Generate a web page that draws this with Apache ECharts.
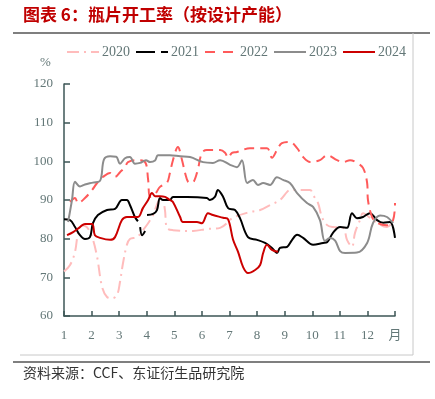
<!DOCTYPE html>
<html>
<head>
<meta charset="utf-8">
<script src="https://cdn.jsdelivr.net/npm/echarts@6/dist/echarts.min.js"></script>
<style>
html,body{margin:0;padding:0;background:#fff;}
#chart{width:435px;height:399px;}
</style>
</head>
<body>
<div id="chart"></div>
<script>
// ---- data (x = month position, y = capacity utilisation %) ----
const seriesNames = ['2020', '2021', '2022', '2023', '2024'];
const xTickLabels = ['1','2','3','4','5','6','7','8','9','10','11','12','月'];

const m2020 = [1.0,1.22,1.40,1.51,1.65,1.83,2.02,2.20,2.38,2.56,2.74,2.92,3.03,3.14,3.28,3.39,3.65,3.86,4.05,4.23,4.41,4.55,4.66,4.73,4.95,5.68,6.18,6.66,7.13,7.74,8.11,8.47,8.83,9.09,9.19,9.92,10.03,10.21,10.35,10.54,10.75,11.12,11.26,11.44,11.55,11.73,11.84,12.20,12.71,12.89];
const v2020 = [71.5,73.2,76.6,81.5,83.5,83.0,80.4,75.3,67.5,64.9,64.6,65.4,68.8,73.7,78.4,79.9,80.4,82.2,84.0,86.1,89.5,90.8,87.4,82.8,82.2,82.0,82.5,82.8,85.4,86.9,87.4,88.7,90.0,92.1,92.6,92.6,91.3,89.2,85.6,83.5,83.0,82.8,79.7,77.9,81.5,84.8,86.6,84.8,83.0,84.1];

const m2021 = [1.0,1.22,1.40,1.58,1.76,1.94,2.05,2.23,2.56,2.85,3.10,3.28,3.39,3.57,3.68,null,3.76,3.83,3.94,null,4.01,4.23,4.37,4.48,4.59,4.84,4.95,5.46,6.18,6.29,6.47,6.58,6.77,6.95,7.20,7.38,7.67,8.00,8.29,8.54,8.72,8.83,9.09,9.27,9.45,9.67,10.03,10.39,10.54,10.75,11.01,11.26,11.44,11.62,11.84,12.09,12.35,12.57,12.82,13.0];
const v2021 = [85.0,84.8,83.0,80.9,79.9,80.4,84.0,86.1,87.4,87.7,90.0,90.0,88.7,85.6,84.5,null,83.0,80.9,82.0,null,86.1,86.4,87.4,90.5,90.0,90.0,90.8,90.8,90.5,90.0,90.8,92.6,90.8,87.9,87.4,85.3,80.4,79.7,78.9,77.6,76.3,77.6,77.9,79.7,81.0,80.2,78.4,78.9,79.1,81.5,83.0,82.8,86.6,85.3,85.6,86.6,84.8,84.1,84.3,80.2];

const m2022 = [1.22,1.40,1.51,1.76,2.02,2.20,2.42,2.67,2.85,3.03,3.21,3.32,3.65,3.94,4.05,4.12,4.30,4.48,4.73,4.84,4.95,5.13,5.28,5.39,5.50,5.64,5.82,6.00,6.18,6.66,6.84,6.95,7.09,7.27,7.45,7.74,8.36,8.54,8.72,8.90,9.19,9.45,9.67,9.92,10.28,10.54,10.90,11.12,11.37,11.62,11.84,11.99,12.02,12.17,12.35,12.71,12.93,13.0];
const v2022 = [89.5,90.5,89.2,90.5,92.6,94.4,96.0,97.0,96.0,97.2,98.5,99.8,100.3,99.8,95.2,90.8,91.5,93.4,94.4,97.0,100.3,103.7,100.3,97.0,94.7,94.4,97.0,102.2,102.9,102.9,102.2,100.9,102.2,102.4,102.9,103.4,103.4,100.9,102.9,104.7,105.0,103.4,101.1,99.8,100.3,101.6,100.3,99.8,100.3,99.6,98.3,94.4,90.0,85.6,84.1,83.5,84.8,89.2];

const m2023 = [1.15,1.29,1.40,1.58,1.76,2.05,2.31,2.45,2.67,2.89,3.03,3.21,3.39,3.57,3.76,3.97,4.12,4.30,4.41,4.84,5.21,5.57,6.04,6.40,6.66,7.02,7.27,7.45,7.64,7.85,8.03,8.22,8.47,8.72,8.94,9.19,9.45,9.81,10.03,10.28,10.46,10.64,10.83,11.01,11.19,11.62,11.99,12.20,12.46,12.71,12.93];
const v2023 = [84.3,90.0,94.7,93.5,94.0,94.5,95.0,100.5,101.3,101.2,99.4,100.8,101.1,99.4,99.6,100.3,99.8,100.2,101.6,101.6,101.3,101.1,99.8,99.6,100.3,99.1,98.5,100.3,94.4,95.2,93.9,94.4,93.9,95.9,95.2,94.4,91.8,89.2,88.2,84.8,79.4,80.2,79.5,76.8,76.3,76.4,78.9,84.0,86.0,85.6,84.0];

const m2024 = [1.11,1.33,1.58,1.76,2.02,2.12,2.31,2.67,2.85,3.10,3.28,3.68,3.86,4.05,4.19,4.30,4.48,4.66,4.84,4.95,5.21,5.31,5.82,6.00,6.22,6.40,6.77,6.95,7.13,7.31,7.49,7.67,7.93,8.11,8.22,8.36,8.54,8.76];
const v2024 = [80.9,81.7,83.0,83.8,83.8,80.9,80.2,79.7,80.4,84.8,85.6,85.6,87.9,90.0,91.8,91.0,91.0,90.8,90.0,89.5,85.6,84.3,84.3,84.0,86.6,86.1,85.4,85.0,79.7,76.6,72.7,71.1,71.9,73.2,76.3,78.4,77.1,76.6];

function pairs(xs, ys) {
  return xs.map((x, i) => (x === null || ys[i] === null) ? [null, null] : [x, ys[i]]);
}

const textGray = '#637777';
const axisColor = '#3d5656';
const serif = '"Liberation Serif","Noto Sans CJK SC",serif';

const chart = echarts.init(document.getElementById('chart'), null, {renderer: 'canvas'});

const colors = ['#ffbcbc', '#000000', '#ff5a5a', '#8c8c8c', '#cc0000'];
const dashes = [[12,5,2,5], 'solid', [10,6], 'solid', 'solid'];
const datas = [pairs(m2020,v2020), pairs(m2021,v2021), pairs(m2022,v2022), pairs(m2023,v2023), pairs(m2024,v2024)];

chart.setOption({
  animation: false,
  backgroundColor: '#fff',
  grid: {left: 64, right: 40, top: 84, bottom: 83, containLabel: false},
  legend: {
    left: 61, top: 40,
    itemWidth: 32, itemHeight: 3, itemGap: 5,
    itemStyle: {color: 'rgba(0,0,0,0)', borderWidth: 0},
    textStyle: {color: textGray, fontFamily: serif, fontSize: 14, padding: [0,0,0,-2]},
    data: [
      {name: '2020'},
      {name: '2021', lineStyle: {type: [19,6,7,20]}},
      {name: '2022', lineStyle: {type: [10,8]}},
      {name: '2023'},
      {name: '2024'}
    ]
  },
  xAxis: {
    type: 'value', min: 1, max: 13, interval: 1,
    axisLine: {show: true, lineStyle: {color: axisColor, width: 1.5}},
    axisTick: {show: true, inside: true, length: 5, lineStyle: {color: axisColor, width: 1.5}},
    splitLine: {show: false},
    axisLabel: {
      color: textGray, fontFamily: serif, fontSize: 13, margin: 13,
      formatter: v => xTickLabels[Math.round(v) - 1]
    }
  },
  yAxis: {
    type: 'value', min: 60, max: 120, interval: 10,
    axisLine: {show: true, lineStyle: {color: axisColor, width: 1.5}},
    axisTick: {show: true, inside: true, length: 6, lineStyle: {color: axisColor, width: 1.5}},
    splitLine: {show: false},
    axisLabel: {color: textGray, fontFamily: serif, fontSize: 13, margin: 11}
  },
  series: seriesNames.map((n, i) => ({
    name: n, type: 'line', data: datas[i], smooth: 0.35, symbol: 'none',
    connectNulls: false,
    lineStyle: {color: colors[i], width: 2, type: dashes[i]},
    itemStyle: {color: colors[i]}
  })),
  graphic: [
    {type: 'text', left: 23, top: 6, style: {text: '图表 6：瓶片开工率（按设计产能）', fill: '#c00000', font: 'bold 17px "Noto Sans CJK SC"'}},
    {type: 'line', shape: {x1: 13, y1: 33, x2: 430, y2: 33}, style: {stroke: '#555', lineWidth: 1.5}},
    {type: 'line', shape: {x1: 413, y1: 33, x2: 413, y2: 355}, style: {stroke: '#c8c8c8', lineWidth: 1}},
    {type: 'line', shape: {x1: 20, y1: 355, x2: 413, y2: 355}, style: {stroke: '#c8c8c8', lineWidth: 1}},
    {type: 'line', shape: {x1: 13, y1: 362, x2: 430, y2: 362}, style: {stroke: '#555', lineWidth: 1.5}},
    {type: 'text', left: 40, top: 56, style: {text: '%', fill: textGray, font: '13px "Liberation Serif"'}},
    {type: 'text', left: 23, top: 366, style: {text: '资料来源：CCF、东证衍生品研究院', fill: '#333', font: '14px "Noto Sans CJK SC"'}}
  ]
});
</script>
</body>
</html>
